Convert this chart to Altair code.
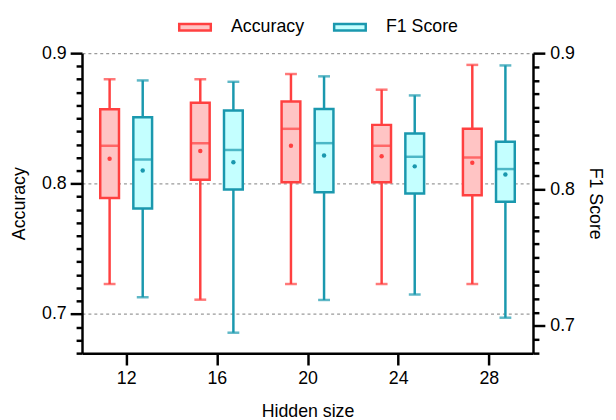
import altair as alt
import pandas as pd

# ---- data ----
sizes = [12, 16, 20, 24, 28]
metrics = ["Accuracy", "F1 Score"]

acc_min = [0.723, 0.711, 0.723, 0.723, 0.723]
acc_q1 = [0.789, 0.803, 0.801, 0.801, 0.791]
acc_median = [0.829, 0.831, 0.842, 0.829, 0.820]
acc_mean = [0.819, 0.825, 0.829, 0.821, 0.816]
acc_q3 = [0.857, 0.862, 0.863, 0.845, 0.842]
acc_max = [0.880, 0.880, 0.884, 0.872, 0.891]

f1_min = [0.721, 0.695, 0.719, 0.723, 0.706]
f1_q1 = [0.786, 0.800, 0.798, 0.797, 0.791]
f1_median = [0.822, 0.829, 0.834, 0.824, 0.815]
f1_mean = [0.814, 0.820, 0.825, 0.817, 0.811]
f1_q3 = [0.853, 0.858, 0.859, 0.841, 0.835]
f1_max = [0.880, 0.879, 0.883, 0.869, 0.891]

x_ticks = [12, 16, 20, 24, 28]
acc_ticks = [round(0.67 + 0.01 * i, 2) for i in range(24)]
f1_ticks = [round(0.68 + 0.01 * i, 2) for i in range(23)]

stroke_colors = ["#FF4040", "#1A98AE"]
fill_colors = ["#FFC4C4", "#C4FFFF"]
FONT = "Liberation Sans"


def frame(metric, lo, q1, med, mean, q3, hi):
    return pd.DataFrame({
        "size": sizes, "metric": metric, "lo": lo, "q1": q1,
        "median": med, "mean": mean, "q3": q3, "hi": hi,
    })


acc_df = frame("Accuracy", acc_min, acc_q1, acc_median, acc_mean, acc_q3, acc_max)
f1_df = frame("F1 Score", f1_min, f1_q1, f1_median, f1_mean, f1_q3, f1_max)

x_scale = alt.Scale(domain=[10.27, 29.73], nice=False, zero=False)
stroke_scale = alt.Scale(domain=metrics, range=stroke_colors)
fill_scale = alt.Scale(domain=metrics, range=fill_colors)

major = "abs(datum.value * 10 - round(datum.value * 10)) < 0.001"

legend = alt.Legend(
    title=None, orient="none", direction="horizontal",
    legendX=97, legendY=-44,
    symbolType="M-1,-0.2L1,-0.2L1,0.2L-1,0.2Z", symbolSize=1024,
    symbolStrokeWidth=2.5, labelFontSize=18, labelFont=FONT,
    labelColor="black", labelOffset=19, columnPadding=24,
)

x_axis = alt.Axis(
    values=x_ticks, title="Hidden size", grid=False, tickSize=12,
    labelPadding=5, titlePadding=15,
)


def group(df, offset, color, y_scale, y_axis):
    base = alt.Chart(df).transform_calculate(pos=f"datum.size + ({offset})")
    x = alt.X("pos:Q", scale=x_scale, axis=x_axis)
    col = alt.value(color)
    whisker = base.mark_rule(strokeWidth=2.5).encode(
        x=x, y=alt.Y("lo:Q", scale=y_scale, axis=y_axis), y2="hi:Q", color=col
    )
    caps = base.transform_fold(["lo", "hi"], as_=["end", "val"]).mark_tick(
        orient="horizontal", size=12, thickness=2.5
    ).encode(x=x, y=alt.Y("val:Q", scale=y_scale, axis=y_axis), color=col)
    box = base.mark_bar(size=19, strokeWidth=2.5).encode(
        x=x, y=alt.Y("q1:Q", scale=y_scale, axis=y_axis), y2="q3:Q",
        fill=alt.Fill("metric:N", scale=fill_scale, legend=legend),
        stroke=alt.Stroke("metric:N", scale=stroke_scale, legend=legend),
    )
    med = base.mark_tick(orient="horizontal", size=19, thickness=2.5).encode(
        x=x, y=alt.Y("median:Q", scale=y_scale, axis=y_axis), color=col
    )
    mean = base.mark_point(filled=True, size=20, opacity=1).encode(
        x=x, y=alt.Y("mean:Q", scale=y_scale, axis=y_axis), color=col
    )
    return alt.layer(whisker, caps, box, med, mean)


acc_axis = alt.Axis(
    orient="left", values=acc_ticks, title="Accuracy",
    labelExpr=f"{major} ? format(datum.value, '.1f') : ''",
    tickSize={"condition": {"test": major, "value": 12}, "value": 6},
    grid=True,
    gridOpacity={"condition": {"test": major, "value": 1}, "value": 0},
    gridDash=[3, 3], gridColor="#9a9a9a", gridWidth=1.2,
    labelPadding=4, titlePadding=13, labelOverlap=False,
)
f1_axis = alt.Axis(
    orient="right", values=f1_ticks, title="F1 Score",
    labelExpr=f"{major} ? format(datum.value, '.1f') : ''",
    tickSize={"condition": {"test": major, "value": 12}, "value": 6},
    grid=False, labelPadding=5, titlePadding=11, labelOverlap=False,
)

acc_layer = group(acc_df, -0.73, stroke_colors[0],
                  alt.Scale(domain=[0.67, 0.9], nice=False, zero=False), acc_axis)
f1_layer = group(f1_df, 0.73, stroke_colors[1],
                 alt.Scale(domain=[0.68, 0.9], nice=False, zero=False), f1_axis)

chart = (
    alt.layer(acc_layer, f1_layer)
    .resolve_scale(y="independent")
    .properties(
        width=457, height=304,
        autosize=alt.AutoSizeParams(type="none"),
        padding={"left": 75, "top": 43, "right": 76, "bottom": 66},
    )
    .configure_view(stroke=None)
    .configure_axis(
        domainColor="black", domainWidth=2.5, tickColor="black", tickWidth=2.5,
        labelFont=FONT, labelFontSize=18, labelColor="black",
        titleFont=FONT, titleFontSize=18, titleFontWeight="normal", titleColor="black",
    )
    .configure_legend(labelFont=FONT)
)

chart.save("out.html", embed_options={"renderer": "svg", "actions": False})
